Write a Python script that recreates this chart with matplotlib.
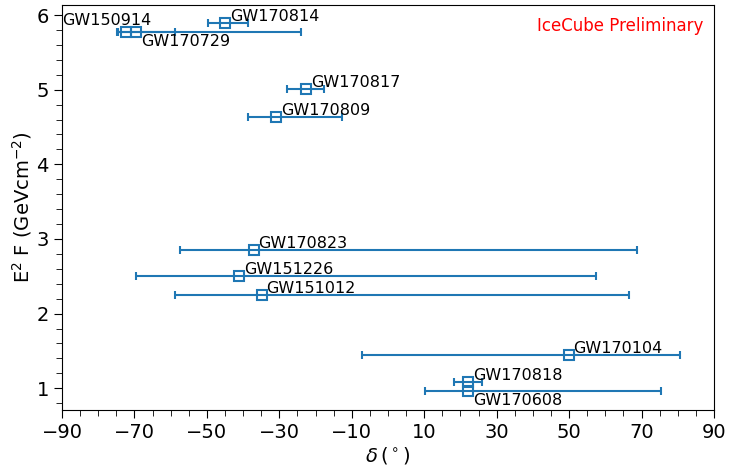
import numpy as np
import matplotlib
matplotlib.use('Agg')
import matplotlib.pyplot as plt
from matplotlib.ticker import MultipleLocator

# GW events: declination (deg), error range, E^2 F upper limit
names = ['GW150914', 'GW170729', 'GW170814', 'GW170817', 'GW170809',
         'GW170823', 'GW151226', 'GW151012', 'GW170104', 'GW170818', 'GW170608']
dec = np.array([-72.4, -69.6, -45.0, -22.7, -30.8,
                -37.1, -41.1, -34.9, 49.9, 22.2, 22.2])
dec_lo = np.array([-74.7, -74.5, -49.6, -27.8, -38.7,
                   -57.4, -69.45, -58.9, -7.1, 18.3, 10.3])
dec_hi = np.array([-58.9, -23.9, -38.7, -17.6, -12.65,
                   68.8, 57.5, 66.6, 80.6, 26.0, 75.5])
flux = np.array([5.77, 5.77, 5.897, 5.009, 4.63,
                 2.856, 2.504, 2.246, 1.446, 1.08, 0.964])
# label placement: 'up' = above right, 'down' = below right, 'left' = far left
place = ['left', 'down', 'up', 'up', 'up', 'up', 'up', 'up', 'up', 'up', 'down']

fig = plt.figure(figsize=(7.29, 4.66), dpi=100)
ax = fig.add_axes([62/729, 1 - 409.7/466, 652/729, 405/466])

xerr = np.vstack([dec - dec_lo, dec_hi - dec])
ax.errorbar(dec, flux, xerr=xerr, fmt='s', mfc='none', mec='#1f77b4', ms=7,
            mew=1.5, color='#1f77b4', ecolor='#1f77b4', elinewidth=1.5,
            capsize=3, capthick=1.5, ls='none')

for n, x, y, p in zip(names, dec, flux, place):
    if p == 'up':
        ax.annotate(n, (x, y), xytext=(3.5, 1.5), textcoords='offset points',
                    fontsize=11.5, va='baseline', ha='left')
    elif p == 'down':
        ax.annotate(n, (x, y), xytext=(3.5, -1.5), textcoords='offset points',
                    fontsize=11.5, va='top', ha='left')
    else:
        ax.annotate(n, (x, y), xytext=(-46, 5), textcoords='offset points',
                    fontsize=11.5, va='baseline', ha='left')

ax.text(0.983, 0.97, 'IceCube Preliminary', color='red', fontsize=12,
        ha='right', va='top', transform=ax.transAxes)

ax.set_xlim(-90, 90)
ax.set_ylim(0.713, 6.138)
ax.set_xticks(np.arange(-90, 91, 20))
ax.xaxis.set_minor_locator(MultipleLocator(5))
ax.yaxis.set_major_locator(MultipleLocator(1))
ax.yaxis.set_minor_locator(MultipleLocator(0.2))
ax.tick_params(axis='both', which='major', labelsize=14, length=6)
ax.tick_params(axis='both', which='minor', length=4)

ax.set_xlabel(r'$\delta\,(^\circ)$', fontsize=14, labelpad=2)
ax.set_ylabel(r'E$^2$ F (GeVcm$^{-2}$)', fontsize=14, labelpad=2)

fig.savefig('out.png', dpi=100)
